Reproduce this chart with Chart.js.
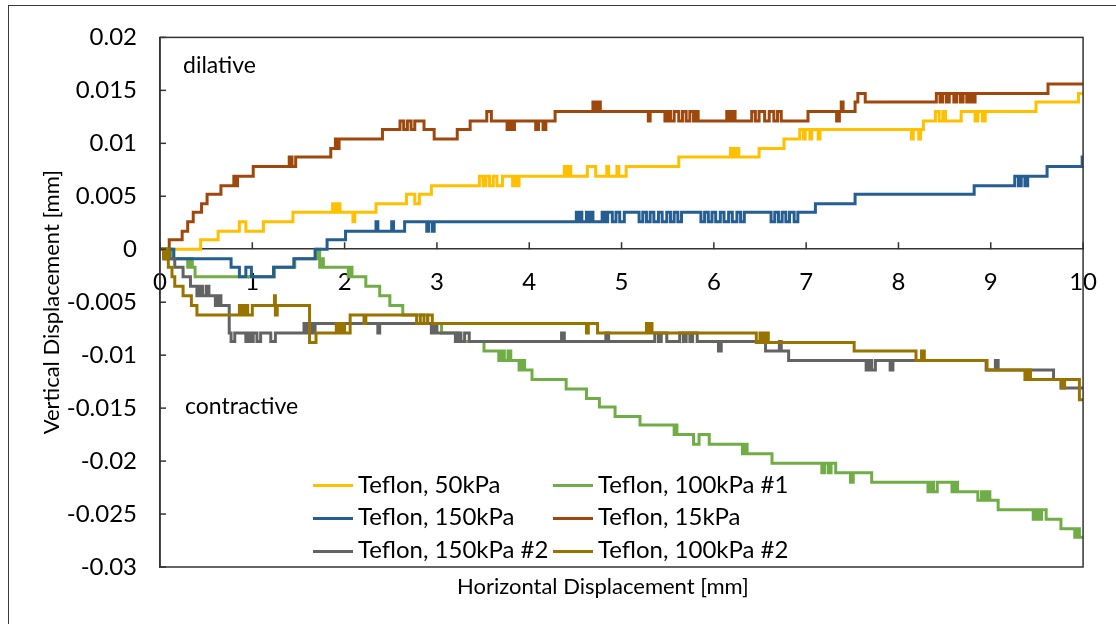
<!DOCTYPE html>
<html><head><meta charset="utf-8">
<script src="https://cdn.jsdelivr.net/npm/chart.js@4.4.0/dist/chart.umd.min.js"></script>
<style>
html,body{margin:0;padding:0;background:#fff;overflow:hidden;}
#wrap{position:relative;width:1116px;height:624px;font-family:Lato,"Open Sans",sans-serif;color:#000;}
#frame{position:absolute;left:8px;top:5px;width:1300px;height:800px;border-left:1px solid #3a3a3a;border-top:1px solid #3a3a3a;}
canvas{position:absolute;left:0;top:0;}
.t{position:absolute;white-space:nowrap;}
.lg{font-size:24px;line-height:28.8px;}
.an{font-size:23px;line-height:27.6px;}
.ti{font-size:22px;line-height:26.4px;}
.sw{position:absolute;width:40px;height:3px;}
</style></head><body>
<div id="wrap">
<div id="frame"></div>
<canvas id="c" width="1116" height="624"></canvas>
<div class="t an" style="left:183px;top:50.6px">dilative</div>
<div class="t an" style="left:185px;top:392.3px">contractive</div>
<div class="t ti" id="xtitle" style="left:457px;top:573.3px">Horizontal Displacement [mm]</div>
<div id="legend"></div>
</div>
<script>
// ---- data (x = horizontal displacement mm, y = vertical displacement mm) ----
const seriesLabels = ["Teflon, 50kPa","Teflon, 100kPa #1","Teflon, 150kPa","Teflon, 15kPa","Teflon, 150kPa #2","Teflon, 100kPa #2"];
const seriesColors = ["#FFC000","#70AD47","#255E91","#9E480E","#636363","#997300"];
const xTickValues = [0,1,2,3,4,5,6,7,8,9,10];
const yRange = [-0.03, 0.02];
const yStep = 0.005;

const teflon50 = [[0,0],[0.44,0.0009],[0.63,0.0017],[0.86,0.0026],[0.93,0.0017],[1.12,0.0026],[1.44,0.0035],[1.87,0.0043],[1.9,0.0035],[1.92,0.0043],[1.95,0.0035],[2.09,0.0026],[2.11,0.0035],[2.34,0.0043],[2.67,0.0052],[2.76,0.0043],[2.81,0.0052],[2.94,0.006],[3.46,0.0069],[3.5,0.006],[3.53,0.0069],[3.57,0.006],[3.61,0.0069],[3.65,0.006],[3.71,0.0069],[3.82,0.006],[3.84,0.0069],[3.87,0.006],[3.89,0.0069],[4.38,0.0078],[4.4,0.0069],[4.43,0.0078],[4.45,0.0069],[4.63,0.0078],[4.72,0.0069],[4.84,0.0078],[4.86,0.0069],[4.95,0.0078],[4.97,0.0069],[5.05,0.0078],[5.62,0.0087],[6.18,0.0095],[6.21,0.0087],[6.24,0.0095],[6.27,0.0087],[6.49,0.0095],[6.76,0.0104],[6.93,0.0113],[6.97,0.0104],[6.99,0.0113],[7.04,0.0104],[7.06,0.0113],[7.13,0.0104],[7.15,0.0113],[8.14,0.0104],[8.16,0.0113],[8.22,0.0104],[8.24,0.0113],[8.27,0.0121],[8.4,0.013],[8.44,0.0121],[8.48,0.013],[8.51,0.0121],[8.68,0.013],[8.83,0.0121],[8.86,0.013],[8.91,0.0121],[8.94,0.013],[9.49,0.0139],[9.95,0.0147],[10,0.0147]];

const teflon100a = [[0,0],[0.06,-0.0009],[0.1,0],[0.13,-0.0009],[0.3,-0.0017],[0.33,-0.0009],[0.35,-0.0017],[0.38,-0.0026],[1.24,-0.0017],[1.46,-0.0009],[1.7,0],[1.73,-0.0017],[1.75,-0.0009],[1.77,-0.0017],[2.04,-0.0026],[2.06,-0.0017],[2.08,-0.0026],[2.23,-0.0035],[2.38,-0.0044],[2.49,-0.0053],[2.63,-0.0062],[2.9,-0.007],[3.05,-0.0079],[3.24,-0.0087],[3.51,-0.0096],[3.67,-0.0105],[3.7,-0.0096],[3.73,-0.0105],[3.77,-0.0096],[3.8,-0.0105],[3.89,-0.0114],[3.92,-0.0105],[3.95,-0.0114],[4.03,-0.0123],[4.4,-0.0132],[4.62,-0.0141],[4.76,-0.0149],[4.93,-0.0158],[5.2,-0.0166],[5.57,-0.0175],[5.59,-0.0166],[5.6,-0.0175],[5.78,-0.0184],[5.84,-0.0175],[5.95,-0.0184],[6.31,-0.0193],[6.34,-0.0184],[6.36,-0.0193],[6.63,-0.0202],[7.17,-0.0211],[7.2,-0.0202],[7.24,-0.0211],[7.27,-0.0202],[7.32,-0.0211],[7.48,-0.022],[7.51,-0.0211],[7.71,-0.022],[8.32,-0.0229],[8.35,-0.022],[8.38,-0.0229],[8.42,-0.022],[8.58,-0.0229],[8.61,-0.022],[8.64,-0.0229],[8.86,-0.0237],[8.9,-0.0229],[8.93,-0.0237],[8.96,-0.0229],[8.99,-0.0237],[9.08,-0.0246],[9.46,-0.0255],[9.49,-0.0246],[9.52,-0.0255],[9.55,-0.0246],[9.6,-0.0255],[9.76,-0.0264],[9.91,-0.0272],[9.94,-0.0264],[9.96,-0.0272],[10,-0.0272]];

const teflon150 = [[0,0],[0.15,-0.0009],[0.77,-0.0017],[0.86,-0.0026],[0.93,-0.0017],[0.99,-0.0026],[1.23,-0.0017],[1.45,-0.0009],[1.68,0],[1.81,0.0009],[2.01,0.0017],[2.34,0.0026],[2.36,0.0017],[2.51,0.0026],[2.53,0.0017],[2.65,0.0026],[2.89,0.0017],[2.91,0.0026],[2.95,0.0017],[2.97,0.0026],[4.51,0.0035],[4.53,0.0026],[4.55,0.0035],[4.57,0.0026],[4.62,0.0035],[4.64,0.0026],[4.67,0.0035],[4.69,0.0026],[4.79,0.0035],[4.82,0.0026],[4.85,0.0035],[4.9,0.0026],[4.94,0.0035],[4.98,0.0026],[5.03,0.0035],[5.19,0.0026],[5.23,0.0035],[5.27,0.0026],[5.31,0.0035],[5.35,0.0026],[5.4,0.0035],[5.44,0.0026],[5.49,0.0035],[5.53,0.0026],[5.57,0.0035],[5.61,0.0026],[5.65,0.0035],[5.86,0.0026],[5.9,0.0035],[5.94,0.0026],[5.98,0.0035],[6.02,0.0026],[6.07,0.0035],[6.11,0.0026],[6.16,0.0035],[6.2,0.0026],[6.25,0.0035],[6.29,0.0026],[6.33,0.0035],[6.62,0.0026],[6.66,0.0035],[6.7,0.0026],[6.74,0.0035],[6.78,0.0026],[6.82,0.0035],[6.87,0.0026],[6.91,0.0035],[7.1,0.0043],[7.53,0.0052],[8.82,0.006],[9.26,0.0069],[9.3,0.006],[9.33,0.0069],[9.37,0.006],[9.4,0.0069],[9.61,0.0078],[9.99,0.0087],[10,0.0087]];

const teflon15 = [[0,0],[0.1,0.0009],[0.24,0.0017],[0.3,0.0026],[0.36,0.0035],[0.45,0.0043],[0.51,0.0052],[0.66,0.006],[0.8,0.0069],[0.82,0.006],[0.84,0.0069],[1.01,0.0078],[1.4,0.0087],[1.43,0.0078],[1.47,0.0087],[1.85,0.0095],[1.9,0.0104],[1.92,0.0095],[1.94,0.0104],[2.41,0.0113],[2.6,0.0121],[2.64,0.0113],[2.68,0.0121],[2.72,0.0113],[2.76,0.0121],[2.86,0.0113],[2.97,0.0104],[3.22,0.0113],[3.36,0.0121],[3.54,0.013],[3.59,0.0121],[3.76,0.0113],[3.79,0.0121],[3.81,0.0113],[3.84,0.0121],[4.07,0.0113],[4.1,0.0121],[4.15,0.0113],[4.18,0.0121],[4.28,0.013],[4.69,0.0139],[4.72,0.013],[4.74,0.0139],[4.77,0.013],[5.29,0.0121],[5.31,0.013],[5.47,0.0121],[5.5,0.013],[5.53,0.0121],[5.57,0.013],[5.62,0.0121],[5.66,0.013],[5.7,0.0121],[5.74,0.013],[5.78,0.0121],[5.81,0.013],[5.83,0.0121],[6.14,0.013],[6.17,0.0121],[6.2,0.013],[6.23,0.0121],[6.41,0.013],[6.45,0.0121],[6.49,0.013],[6.55,0.0121],[6.6,0.013],[6.65,0.0121],[6.69,0.013],[6.73,0.0121],[7.02,0.013],[7.33,0.0121],[7.36,0.013],[7.38,0.0139],[7.4,0.013],[7.53,0.0139],[7.56,0.0147],[7.64,0.0139],[8.41,0.0147],[8.45,0.0139],[8.48,0.0147],[8.52,0.0139],[8.55,0.0147],[8.6,0.0139],[8.63,0.0147],[8.67,0.0139],[8.7,0.0147],[8.74,0.0139],[8.77,0.0147],[8.8,0.0139],[8.83,0.0147],[9.62,0.0156],[10,0.0156]];

const teflon150b = [[0,0],[0.04,-0.0009],[0.07,0],[0.1,-0.0009],[0.16,-0.0017],[0.25,-0.0026],[0.33,-0.0035],[0.4,-0.0044],[0.43,-0.0035],[0.46,-0.0044],[0.5,-0.0035],[0.53,-0.0044],[0.6,-0.0053],[0.63,-0.0044],[0.66,-0.0053],[0.75,-0.0079],[0.77,-0.0087],[0.81,-0.0079],[0.93,-0.0087],[0.96,-0.0079],[0.98,-0.0087],[1.01,-0.0079],[1.05,-0.0087],[1.09,-0.0079],[1.2,-0.0087],[1.25,-0.0079],[1.56,-0.007],[1.59,-0.0079],[1.62,-0.007],[1.65,-0.0079],[1.68,-0.007],[2.36,-0.0079],[2.38,-0.007],[2.94,-0.0079],[2.97,-0.007],[3.0,-0.0079],[3.2,-0.0087],[3.23,-0.0079],[3.26,-0.0087],[3.3,-0.0079],[3.35,-0.0087],[4.35,-0.0079],[4.38,-0.0087],[4.83,-0.0079],[4.86,-0.0087],[5.36,-0.0079],[5.4,-0.0087],[5.43,-0.0079],[5.49,-0.0087],[5.63,-0.0079],[5.67,-0.0087],[5.7,-0.0079],[5.74,-0.0087],[5.77,-0.0079],[5.82,-0.0087],[6.05,-0.0096],[6.08,-0.0087],[6.56,-0.0096],[6.71,-0.0087],[6.73,-0.0096],[6.81,-0.0105],[7.65,-0.0114],[7.68,-0.0105],[7.71,-0.0114],[7.75,-0.0105],[7.91,-0.0114],[7.94,-0.0105],[8.95,-0.0114],[9.05,-0.0105],[9.08,-0.0114],[9.68,-0.0123],[9.76,-0.0131],[10,-0.0131]];

const teflon100b = [[0,0],[0.04,-0.0009],[0.07,0],[0.09,-0.0017],[0.13,-0.0026],[0.16,-0.0035],[0.25,-0.0044],[0.34,-0.0053],[0.4,-0.0062],[0.86,-0.0053],[0.89,-0.0062],[0.92,-0.0053],[0.95,-0.0062],[1.0,-0.0053],[1.24,-0.0044],[1.25,-0.0062],[1.27,-0.0053],[1.62,-0.0088],[1.69,-0.0079],[1.91,-0.007],[1.94,-0.0079],[1.97,-0.007],[2.0,-0.0079],[2.06,-0.0062],[2.21,-0.007],[2.23,-0.0062],[2.78,-0.007],[2.82,-0.0062],[2.86,-0.007],[2.9,-0.0062],[2.95,-0.007],[4.62,-0.0079],[4.64,-0.007],[4.74,-0.0079],[5.27,-0.007],[5.29,-0.0079],[5.31,-0.007],[5.33,-0.0079],[6.46,-0.0088],[6.5,-0.0079],[6.53,-0.0088],[6.56,-0.0079],[6.59,-0.0088],[7.52,-0.0096],[8.19,-0.0105],[8.25,-0.0096],[8.28,-0.0105],[8.96,-0.0114],[9.37,-0.0123],[9.4,-0.0114],[9.43,-0.0123],[9.77,-0.0131],[9.8,-0.0123],[9.96,-0.0142],[10,-0.0142]];

const seriesData = [teflon50, teflon100a, teflon150, teflon15, teflon150b, teflon100b];

// ---- legend (HTML, 2 columns x 3 rows, row-wise) ----
const legend = document.getElementById('legend');
const legendCols = [313, 553];
const legendRows = [485, 518, 551];
const legendBaselines = [494, 526, 558.3];
seriesLabels.forEach((lab, i) => {
  const col = i % 2, row = Math.floor(i / 2);
  const sw = document.createElement('div');
  sw.className = 'sw';
  sw.style.left = legendCols[col] + 'px';
  sw.style.top = (legendRows[row] - 1.5) + 'px';
  sw.style.background = seriesColors[i];
  legend.appendChild(sw);
  const t = document.createElement('div');
  t.className = 't lg';
  t.style.left = (legendCols[col] + 45) + 'px';
  t.style.top = (legendBaselines[row] - 23.7) + 'px';
  t.textContent = lab;
  legend.appendChild(t);
});

const axisColor = '#333333';
const framePlugin = {
  id: 'frameTicks',
  afterDatasetsDraw(chart) {
    const {ctx, chartArea: a, scales: {x, y}} = chart;
    ctx.save();
    ctx.strokeStyle = axisColor;
    ctx.lineWidth = 1.5;
    ctx.strokeRect(a.left, a.top, a.right - a.left, a.bottom - a.top);
    const y0 = y.getPixelForValue(0);
    x.ticks.forEach(t => {
      const px = x.getPixelForValue(t.value);
      ctx.beginPath(); ctx.moveTo(px, y0); ctx.lineTo(px, y0 - 7); ctx.stroke();
    });
    y.ticks.forEach(t => {
      const py = y.getPixelForValue(t.value);
      ctx.beginPath(); ctx.moveTo(a.left, py); ctx.lineTo(a.left + 6, py); ctx.stroke();
    });
    ctx.restore();
  }
};

const tickFont = {family: 'Lato, "Open Sans", sans-serif', size: 24};
const titleFont = {family: 'Lato, "Open Sans", sans-serif', size: 22};

new Chart(document.getElementById('c'), {
  type: 'line',
  data: {
    datasets: seriesData.map((pts, i) => ({
      label: seriesLabels[i],
      data: pts.map(([x, y]) => ({x, y})),
      borderColor: seriesColors[i],
      backgroundColor: seriesColors[i],
      borderWidth: 3,
      pointRadius: 0,
      stepped: true,
      fill: false,
      order: seriesData.length - i
    }))
  },
  options: {
    responsive: false,
    animation: false,
    devicePixelRatio: 1,
    layout: {padding: {top: 31, right: 31, bottom: 57, left: 0}},
    plugins: {legend: {display: false}, tooltip: {enabled: false}},
    scales: {
      x: {
        type: 'linear',
        position: {y: 0},
        min: 0, max: 10,
        afterBuildTicks: s => { s.ticks = xTickValues.map(v => ({value: v})); },
        grid: {display: false, drawTicks: false},
        border: {display: true, color: axisColor, width: 1.5},
        ticks: {color: '#000', font: tickFont, padding: 19, maxRotation: 0, autoSkip: false,
                callback: v => String(v)}
      },
      y: {
        type: 'linear',
        position: 'left',
        min: yRange[0], max: yRange[1],
        ticks: {stepSize: yStep, color: '#000', font: tickFont, padding: 23,
                callback: v => String(+v.toFixed(3))},
        grid: {display: false, drawTicks: false},
        border: {display: true, color: axisColor, width: 1.5},
        title: {display: true, text: 'Vertical Displacement [mm]', color: '#000', font: titleFont, padding: {top: 39, bottom: 0}},
        afterFit: s => { s.width = 160; }
      }
    }
  },
  plugins: [framePlugin]
});
</script>
</body></html>
